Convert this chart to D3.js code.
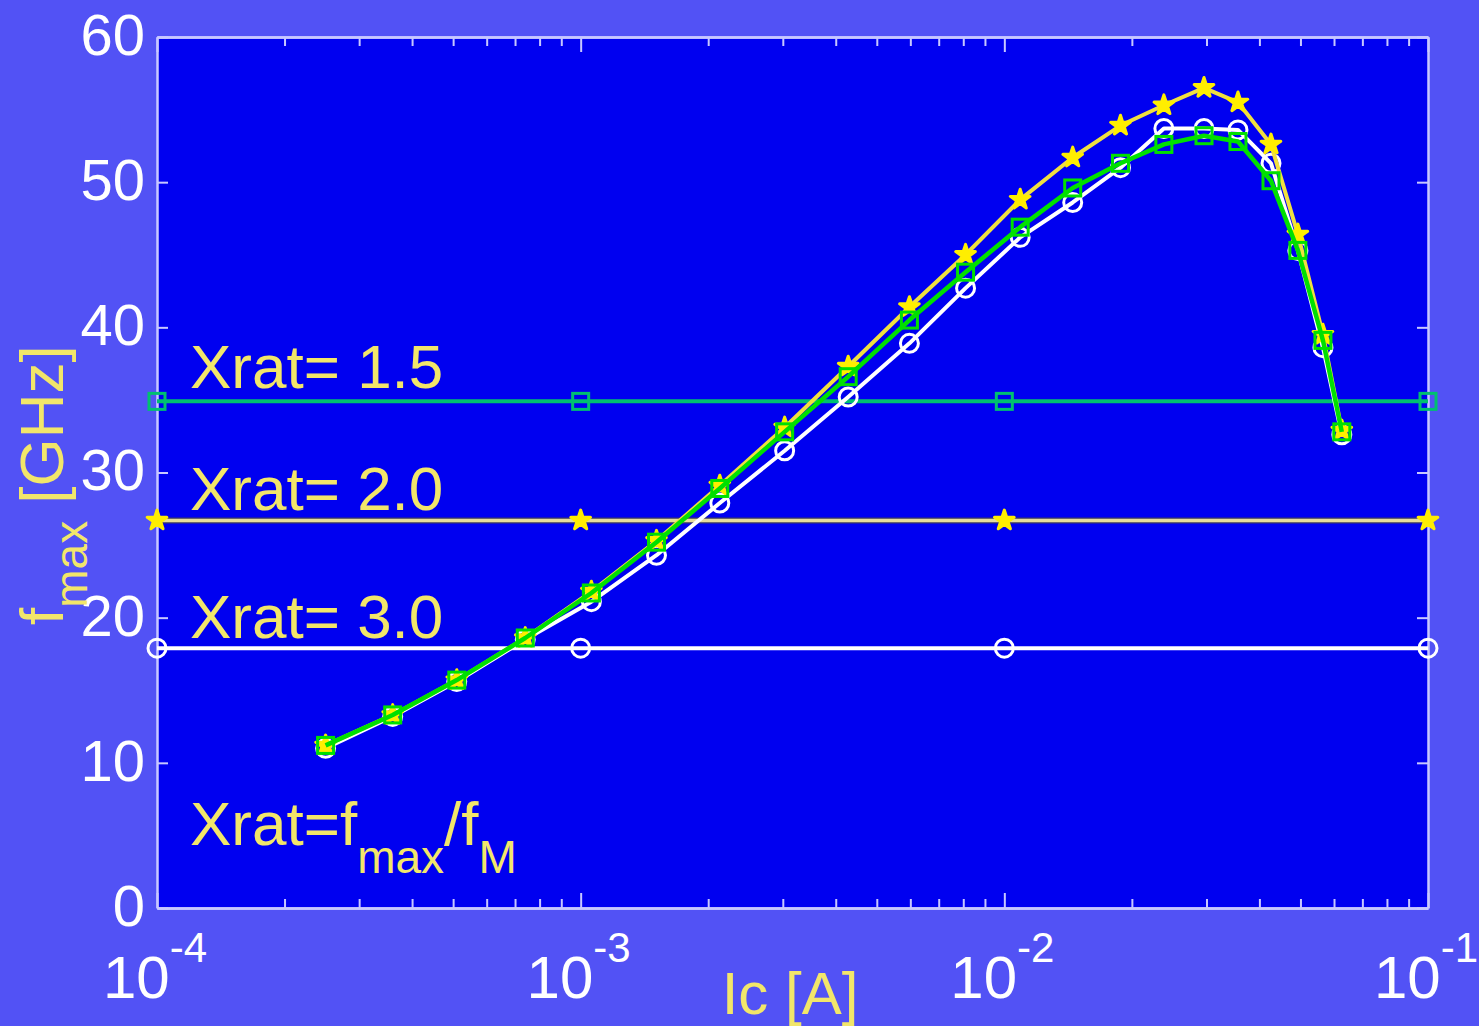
<!DOCTYPE html>
<html>
<head>
<meta charset="utf-8">
<script src="https://cdn.jsdelivr.net/npm/d3@7"></script>
<style>
  body { margin: 0; background: #5252f5; }
  text { font-family: "Liberation Sans", Arial, sans-serif; }
</style>
</head>
<body>
<script>
/**
 * fmax vs collector current, three Xrat cases
 */

const WIDTH = 1479;
const HEIGHT = 1026;

const PLOT = { left: 157, right: 1428, top: 37, bottom: 908 };

const OUTER_BG = "#5252f5";
const PLOT_BG = "#0000f0";
const AXIS_COLOR = "#c8c8ff";
const LABEL_YELLOW = "#f2e66a";

// collector current [A]
const ic = [2.5e-4, 3.6e-4, 5.1e-4, 7.4e-4, 1.06e-3, 1.51e-3, 2.13e-3, 3.03e-3,
            4.28e-3, 5.97e-3, 8.1e-3, 1.09e-2, 1.45e-2, 1.88e-2, 2.38e-2, 2.96e-2,
            3.56e-2, 4.26e-2, 4.93e-2, 5.65e-2, 6.26e-2];

// fmax [GHz] for each series
const fmaxWhite  = [11.0, 13.2, 15.6, 18.5, 21.1, 24.3, 27.9, 31.5, 35.2, 38.9, 42.7,
                    46.2, 48.6, 51.0, 53.7, 53.7, 53.6, 51.3, 45.3, 38.6, 32.6];
const fmaxYellow = [11.2, 13.3, 15.7, 18.6, 21.8, 25.3, 29.1, 33.1, 37.3, 41.4, 45.0,
                    48.8, 51.7, 53.9, 55.3, 56.5, 55.5, 52.6, 46.4, 39.5, 32.9];
const fmaxGreen  = [11.2, 13.3, 15.7, 18.6, 21.7, 25.2, 28.9, 32.8, 36.6, 40.5, 43.8,
                    46.9, 49.6, 51.3, 52.6, 53.2, 52.8, 50.1, 45.3, 39.1, 32.8];

// fM levels for the Xrat lines
const levelX = [1e-4, 1e-3, 1e-2, 1e-1];
const levelWhite = 17.9;   // Xrat = 3.0
const levelYellow = 26.7;  // Xrat = 2.0
const levelGreen = 34.9;   // Xrat = 1.5

const yTicks = [0, 10, 20, 30, 40, 50, 60];
const xDecades = [1e-4, 1e-3, 1e-2, 1e-1];
const xDecadeExp = ["-4", "-3", "-2", "-1"];

const xrats = [
    { text: "Xrat= 1.5", level: 35.8 },
    { text: "Xrat= 2.0", level: 27.4 },
    { text: "Xrat= 3.0", level: 18.6 }
];

/**
 * Scales
 */
const x = d3.scaleLog().domain([1e-4, 1e-1]).range([PLOT.left, PLOT.right]);
const y = d3.scaleLinear().domain([0, 60]).range([PLOT.bottom, PLOT.top]);

const svg = d3.select("body").append("svg")
    .attr("width", WIDTH)
    .attr("height", HEIGHT);

svg.append("rect")
    .attr("width", WIDTH).attr("height", HEIGHT)
    .attr("fill", OUTER_BG);

svg.append("rect")
    .attr("x", PLOT.left).attr("y", PLOT.top)
    .attr("width", PLOT.right - PLOT.left)
    .attr("height", PLOT.bottom - PLOT.top)
    .attr("fill", PLOT_BG);

/**
 * Axes (ticks point inward, box on all four sides)
 */
let minors = [];
for (let d = -4; d < -1; d++) {
    for (let k = 2; k < 10; k++) minors.push(k * Math.pow(10, d));
}

function styleAxis(g) {
    g.select(".domain").attr("stroke", AXIS_COLOR).attr("stroke-width", 2.5);
    g.selectAll(".tick line").attr("stroke", AXIS_COLOR).attr("stroke-width", 2);
}

[[d3.axisBottom, PLOT.bottom], [d3.axisTop, PLOT.top]].forEach(([ax, pos]) => {
    svg.append("g")
        .attr("transform", `translate(0,${pos})`)
        .call(ax(x).tickValues(minors).tickSize(-9).tickSizeOuter(0).tickFormat(""))
        .call(styleAxis);
    svg.append("g")
        .attr("transform", `translate(0,${pos})`)
        .call(ax(x).tickValues(xDecades).tickSize(-15).tickSizeOuter(0).tickFormat(""))
        .call(styleAxis);
});

svg.append("g")
    .attr("transform", `translate(${PLOT.left},0)`)
    .call(d3.axisLeft(y).tickValues(yTicks).tickSize(-11).tickSizeOuter(0).tickPadding(12))
    .call(styleAxis)
    .call(g => g.selectAll(".tick text")
        .attr("fill", "#ffffff")
        .attr("font-size", 58)
        .attr("dy", "0.3em"));

svg.append("g")
    .attr("transform", `translate(${PLOT.right},0)`)
    .call(d3.axisRight(y).tickValues(yTicks).tickSize(-11).tickSizeOuter(0).tickFormat(""))
    .call(styleAxis);

// decade labels 10^n
const xl = svg.append("g");
xDecades.forEach((d, i) => {
    const t = xl.append("text")
        .attr("x", x(d) - 2)
        .attr("y", 998)
        .attr("text-anchor", "middle")
        .attr("fill", "#ffffff")
        .attr("font-size", 60);
    t.append("tspan").text("10");
    t.append("tspan")
        .attr("font-size", 42)
        .attr("dy", -36)
        .text(xDecadeExp[i]);
});

/**
 * Series
 */
const line = d3.line().x(d => x(d[0])).y(d => y(d[1]));

function drawLine(xs, ys, color, width) {
    svg.append("path")
        .datum(xs.map((v, i) => [v, ys[i]]))
        .attr("d", line)
        .attr("fill", "none")
        .attr("stroke", color)
        .attr("stroke-width", width)
        .attr("stroke-linejoin", "round");
}

function drawMarkers(xs, ys, kind, color) {
    const pts = xs.map((v, i) => [v, ys[i]]);
    const g = svg.append("g");
    if (kind === "circle") {
        g.selectAll("circle").data(pts).join("circle")
            .attr("cx", d => x(d[0])).attr("cy", d => y(d[1]))
            .attr("r", 9)
            .attr("fill", "none")
            .attr("stroke", color)
            .attr("stroke-width", 3);
    } else if (kind === "square") {
        g.selectAll("rect").data(pts).join("rect")
            .attr("x", d => x(d[0]) - 8).attr("y", d => y(d[1]) - 8)
            .attr("width", 16).attr("height", 16)
            .attr("fill", "none")
            .attr("stroke", color)
            .attr("stroke-width", 3);
    } else {
        g.selectAll("path").data(pts).join("path")
            .attr("transform", d => `translate(${x(d[0])},${y(d[1])})`)
            .attr("d", d3.symbol(d3.symbolStar, 120))
            .attr("fill", color)
            .attr("stroke", color)
            .attr("stroke-width", 3)
            .attr("stroke-linejoin", "round");
    }
}

// Xrat horizontal lines
const levels = levelX.map(() => 0);
drawLine(levelX, levels.map(() => levelGreen), "#00c070", 4);
drawMarkers(levelX, levels.map(() => levelGreen), "square", "#00c070");
drawLine(levelX, levels.map(() => levelYellow), "#3a3a60", 6);
drawLine(levelX, levels.map(() => levelYellow), "#e6dc9c", 3.5);
drawMarkers(levelX, levels.map(() => levelYellow), "star", "#ffee00");
drawLine(levelX, levels.map(() => levelWhite), "#ffffff", 4);
drawMarkers(levelX, levels.map(() => levelWhite), "circle", "#ffffff");

// fmax curves
drawLine(ic, fmaxWhite, "#ffffff", 4);
drawMarkers(ic, fmaxWhite, "circle", "#ffffff");
drawLine(ic, fmaxYellow, "#f0e040", 4);
drawMarkers(ic, fmaxYellow, "star", "#ffee00");
drawLine(ic, fmaxGreen, "#00e000", 4.5);
drawMarkers(ic, fmaxGreen, "square", "#00e000");

/**
 * Text labels
 */
xrats.forEach(r => {
    svg.append("text")
        .attr("x", 190)
        .attr("y", y(r.level))
        .attr("fill", LABEL_YELLOW)
        .attr("font-size", 62)
        .text(r.text);
});

const note = svg.append("text")
    .attr("x", 190).attr("y", 845)
    .attr("fill", LABEL_YELLOW)
    .attr("font-size", 62);
note.append("tspan").text("Xrat=f");
note.append("tspan").attr("font-size", 46).attr("dy", 28).text("max");
note.append("tspan").attr("dy", -28).text("/f");
note.append("tspan").attr("font-size", 46).attr("dy", 28).text("M");

const ylab = svg.append("text")
    .attr("transform", "translate(63,625) rotate(-90)")
    .attr("fill", LABEL_YELLOW)
    .attr("font-size", 62);
ylab.append("tspan").text("f");
ylab.append("tspan").attr("font-size", 46).attr("dy", 24).text("max");
ylab.append("tspan").attr("dy", -24).text(" [GHz]");

svg.append("text")
    .attr("x", 790).attr("y", 1014)
    .attr("text-anchor", "middle")
    .attr("fill", LABEL_YELLOW)
    .attr("font-size", 60)
    .text("Ic [A]");
</script>
</body>
</html>
